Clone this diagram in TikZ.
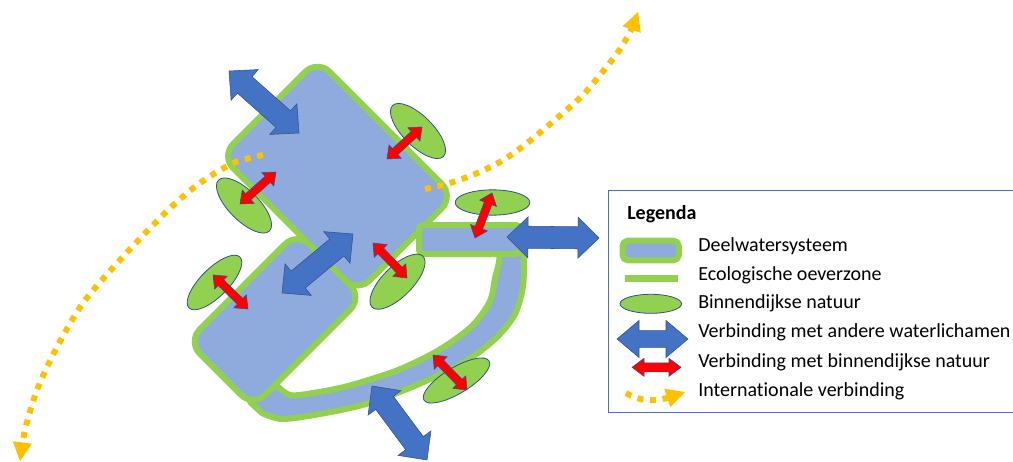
\documentclass[tikz,border=0pt]{standalone}
\usepackage{fontspec}
\setmainfont{Carlito}[Ligatures=NoCommon]
\usetikzlibrary{calc,arrows.meta,shapes.geometric}
\definecolor{lgreen}{HTML}{92D050}
\definecolor{wblue}{HTML}{8FAADC}
\definecolor{dblue}{HTML}{4472C4}
\definecolor{oline}{HTML}{2F528F}
\definecolor{iorange}{HTML}{FFC000}
\tikzset{
  water/.style={fill=wblue, draw=lgreen, line width=4.5pt, line join=round},
  nature/.style={ellipse, fill=lgreen, draw=oline, line width=0.6pt, inner sep=0pt},
  bigarrow/.style={fill=dblue, draw=oline, line width=0.4pt},
  redarrow/.style={fill=red, draw=oline, line width=0.4pt},
  intl/.style={draw=iorange, line width=4.5pt, dash pattern=on 4.5pt off 5pt,
    -{Triangle[width=14.5pt,length=14pt,line width=0pt]}},
  legtext/.style={anchor=base west, font=\fontsize{15pt}{18pt}\selectfont, inner sep=0pt},
}
\newcommand\dblarrow[6]{%
  \path ($(#2)!#4!(#3)$) coordinate (#2-h) ($(#3)!#4!(#2)$) coordinate (#3-h);
  \draw[#1] (#2) -- ($(#2-h)!#5!90:(#3)$) -- ($(#2-h)!#6!90:(#3)$)
    -- ($(#3-h)!#6!-90:(#2)$) -- ($(#3-h)!#5!-90:(#2)$) -- (#3)
    -- ($(#3-h)!#5!90:(#2)$) -- ($(#3-h)!#6!90:(#2)$)
    -- ($(#2-h)!#6!-90:(#3)$) -- ($(#2-h)!#5!-90:(#3)$) -- cycle;}
\begin{document}
\begin{tikzpicture}[x=0.75pt,y=-0.75pt]
\clip (0,0) rectangle (1013,461);
% curved band
\draw[water] plot[smooth] coordinates {(524,248) (524,272) (522,292) (514,316) (494,340) (461,364) (412,387) (366,404) (320,414) (282,419) (262,413)}
  -- (250,402) -- plot[smooth] coordinates {(276,385) (290,395) (313,393) (348,386) (398,370) (439,350) (472,326) (490,301) (495,278) (499,262) (500,248)} -- cycle;
% upper water body
\draw[water, rounded corners=12.75pt] ($(317.5,59.7)!.5!(453.9,196.1)$) -- (453.9,196.1) -- (357.5,292.5) -- (221.1,156.1) -- (317.5,59.7) -- cycle;
% lower water body
\draw[water, rounded corners=12.75pt] ($(297.1,232.1)!.5!(362.4,297.4)$) -- (362.4,297.4) -- (253,406.8) -- (187.7,341.5) -- (297.1,232.1) -- cycle;
% channel
\draw[water, rounded corners=3pt] (419,225) rectangle (520,254);
% nature areas
\node[nature, minimum width=54pt, minimum height=22.5pt, rotate=-45] (e1) at (418,131) {};
\node[nature, minimum width=54pt, minimum height=22.5pt, rotate=-45] (e2) at (244,205.5) {};
\node[nature, minimum width=56pt, minimum height=19pt] (e3) at (492.5,202.5) {};
\node[nature, minimum width=54pt, minimum height=21pt, rotate=45] (e4) at (214.5,282.5) {};
\node[nature, minimum width=54pt, minimum height=22.5pt, rotate=45] (e5) at (397.5,281.7) {};
\node[nature, minimum width=57pt, minimum height=19.5pt, rotate=31] (e6) at (456.5,380.5) {};
% international connections
\coordinate (iL0) at (263,155);
\coordinate (iL1) at (20,461);
\coordinate (iR0) at (425,189);
\coordinate (iR1) at (638,12);
\draw[intl] plot[smooth] coordinates {(iL0) (236,162) (212,175) (187,193) (160,218) (120,260) (83,303) (57,347) (37,390) (25,430) (iL1)};
\draw[intl] plot[smooth] coordinates {(iR0) (450,183) (475,174) (500,162) (522,147) (543,130) (563,113) (583,95) (600,75) (618,52) (630,32) (iR1)};
% red arrows
\coordinate (r1a) at (387,159); \coordinate (r1b) at (422,127);
\coordinate (r2a) at (276,172); \coordinate (r2b) at (240,204);
\coordinate (r3a) at (492,193); \coordinate (r3b) at (475,238);
\coordinate (r4a) at (213,275); \coordinate (r4b) at (248,309);
\coordinate (r5a) at (373,243); \coordinate (r5b) at (407,278);
\coordinate (r6a) at (433,355); \coordinate (r6b) at (467,390);
\foreach \i in {1,...,6}{\dblarrow{redarrow}{r\i a}{r\i b}{8.25pt}{6.75pt}{3pt}}
% blue arrows
\coordinate (b1a) at (229,71);  \coordinate (b1b) at (299,133);
\coordinate (b2a) at (353,234); \coordinate (b2b) at (282,293);
\coordinate (b3a) at (507,237); \coordinate (b3b) at (599,238);
\coordinate (b4a) at (372,386); \coordinate (b4b) at (427,460);
\foreach \i in {1,...,4}{\dblarrow{bigarrow}{b\i a}{b\i b}{15.75pt}{15.4pt}{8.25pt}}
% legend
\draw[dblue, line width=0.75pt] (608,190) rectangle (1030,412);
\node[legtext, font=\fontsize{15pt}{18pt}\selectfont\bfseries] (lg) at (627,219) {Legenda};
\draw[water, rounded corners=4pt] (622.5,240.7) rectangle (678.8,260.3);
\node[legtext] (t1) at (698,251.7) {Deelwatersysteem};
\draw[lgreen, line width=5pt] (625,278.3) -- (678.3,278.3);
\node[legtext] (t2) at (698,280.3) {Ecologische oeverzone};
\node[nature, minimum width=46.2pt, minimum height=14.25pt] (le) at (650.8,303.8) {};
\node[legtext] (t3) at (698,308.7) {Binnendijkse natuur};
\coordinate (lba) at (617,339); \coordinate (lbb) at (688,339);
\dblarrow{bigarrow}{lba}{lbb}{16.5pt}{13.9pt}{6.25pt}
\node[legtext] (t4) at (698,337.7) {Verbinding met andere waterlichamen};
\coordinate (lra) at (632,367.3); \coordinate (lrb) at (681,367.3);
\dblarrow{redarrow}{lra}{lrb}{9pt}{6.75pt}{3.4pt}
\node[legtext] (t5) at (698,367.3) {Verbinding met binnendijkse natuur};
\coordinate (loa) at (626,393); \coordinate (lob) at (685,392);
\draw[intl] (loa) .. controls (638,401) and (655,402) .. (lob);
\node[legtext] (t6) at (698,396.7) {Internationale verbinding};
\end{tikzpicture}
\end{document}
